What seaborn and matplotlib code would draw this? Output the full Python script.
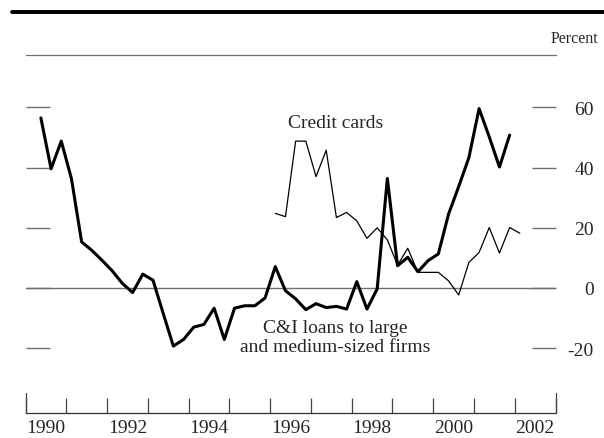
import matplotlib
matplotlib.use("Agg")
import matplotlib.pyplot as plt
from matplotlib.lines import Line2D
import numpy as np
import pandas as pd
import seaborn as sns

# Net percentage of banks tightening standards, quarterly survey
ci_start = "1990Q2"
ci_values = [56.5, 39.6, 48.8, 36.3, 15.3, 12.5, 9.2, 5.7, 1.5, -1.5,
             4.6, 2.6, -8.4, -19.3, -17.1, -13.0, -12.1, -6.7, -17.1, -6.7,
             -5.9, -5.9, -3.3, 7.1, -0.9, -3.6, -7.2, -5.2, -6.5, -6.1,
             -7.0, 2.1, -7.0, -0.3, 36.4, 7.4, 10.2, 5.4, 9.1, 11.3,
             24.5, 33.7, 43.3, 59.6, 50.2, 40.2, 50.8]

cc_start = "1996Q1"
cc_values = [24.8, 23.7, 48.8, 48.8, 37.0, 45.8, 23.4, 25.1, 22.3, 16.5,
             20.0, 16.0, 7.6, 13.2, 5.2, 5.2, 5.2, 2.4, -2.3, 8.5,
             11.8, 20.1, 11.6, 20.1, 18.2]

year_ticks = list(range(1990, 2004))
year_labels = [str(y) for y in range(1990, 2003, 2)]
y_ticks = [-20, 0, 20, 40, 60]


def mid_quarter(start, n):
    periods = pd.period_range(start, periods=n, freq="Q")
    return np.array([p.year + (p.quarter - 1) / 4 + 0.125 for p in periods])


ci = pd.DataFrame({"date": mid_quarter(ci_start, len(ci_values)), "value": ci_values})
cc = pd.DataFrame({"date": mid_quarter(cc_start, len(cc_values)), "value": cc_values})

sns.set_style("white")
plt.rcParams["font.family"] = ["Liberation Serif", "DejaVu Serif"]

W, H = 604, 439
fig = plt.figure(figsize=(W / 100, H / 100), dpi=100)

# axes box in pixel coordinates
x0, x1 = 25.6, 555.5
ytop, ybot = 56.0, 414.0
ax = fig.add_axes([x0 / W, 1 - ybot / H, (x1 - x0) / W, (ybot - ytop) / H])

# vertical scale: 0 at y=289 px, 20 units per 60.2 px
px_per_unit = 60.2 / 20
ax.set_ylim(-(ybot - 289) / px_per_unit, (289 - ytop) / px_per_unit)
ax.set_xlim(1990, 2003)

grey = "#707070"

sns.lineplot(data=ci, x="date", y="value", ax=ax, color="black", lw=2.2,
             clip_on=False)
sns.lineplot(data=cc, x="date", y="value", ax=ax, color="black", lw=0.9,
             clip_on=False)

# zero line
ax.axhline(0, xmin=0, xmax=0.997, color=grey, lw=1.0, zorder=1)

# spines: top thin rule and bottom axis line
for side in ("left", "right"):
    ax.spines[side].set_visible(False)
ax.spines["top"].set_color(grey)
ax.spines["top"].set_linewidth(0.9)
ax.spines["bottom"].set_color("#333333")
ax.spines["bottom"].set_linewidth(0.9)

# y ticks: inward marks on both sides, labels on the right
ax.set_yticks(y_ticks)
ax.set_yticklabels([str(v) for v in y_ticks])
ax.tick_params(axis="y", left=True, right=True, direction="in",
               length=17.3, width=1.0, color=grey,
               labelleft=False, labelright=True, pad=27.5, labelsize=14)
for lab in ax.get_yticklabels():
    lab.set_horizontalalignment("right")

# x ticks: year boundaries, labels centred within the year
ax.set_xticks(year_ticks)
ax.set_xticklabels([])
ax.set_xticks([int(s) + 0.5 for s in year_labels], minor=True)
ax.set_xticklabels(year_labels, minor=True)
ax.tick_params(axis="x", which="major", direction="in", length=10.8,
               width=0.9, color="#444444", bottom=True, top=False)
ax.tick_params(axis="x", which="minor", length=0, pad=4, labelsize=14)
for xe in (1990, 2003):
    ax.axvline(xe, ymin=0, ymax=20 / (ybot - ytop), color="#444444",
               lw=0.9, clip_on=False)

ax.set_xlabel("")
ax.set_ylabel("")

# series labels
ax.text(1997.6, 53.5, "Credit cards", ha="center", va="baseline", fontsize=14)
ax.text(1997.6, -21.0, "C&I loans to large\nand medium-sized firms",
        ha="center", va="baseline", fontsize=14, linespacing=1.15)

# heading rule and unit label
fig.add_artist(Line2D([11.6 / W, 1.0], [1 - 12.5 / H] * 2, color="black",
                      lw=2.8))
fig.text(598 / W, 1 - 39 / H, "Percent", ha="right", va="center", fontsize=11.5)

fig.savefig("out.png", dpi=100)
